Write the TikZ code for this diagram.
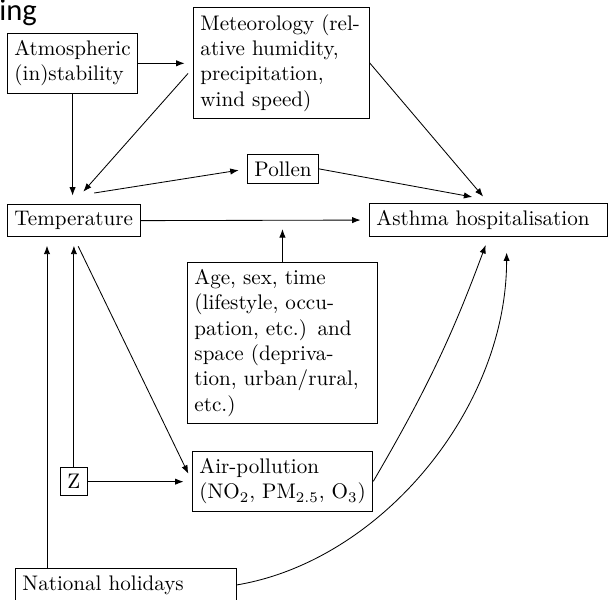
\documentclass[tikz,border=0pt]{standalone}
\usepackage{fontspec}
\newfontfamily\headfont{Carlito}
\usetikzlibrary{arrows.meta,calc}
\begin{document}
\begin{tikzpicture}[x=0.4739pt,y=-0.4739pt,
  box/.style={draw, inner sep=3.33pt, align=left},
  arr/.style={-{Latex[length=4pt,width=3pt]}, shorten >=4pt}]
\useasboundingbox (0,0) rectangle (609,599);
% heading fragment
\node[font=\headfont\fontsize{14.5}{16}\selectfont, anchor=base west, inner sep=0] (hd) at (-1,20) {ing};
% nodes
\node[box, anchor=north west] (atm) at (7,33) {Atmospheric\\(in)stability};
\node[box, anchor=north west, text width=76.7pt] (met) at (193,7) {Meteorology (rel-\\ative humidity,\\precipitation,\\wind speed)};
\node[box, anchor=north west] (pol) at (247,154) {Pollen};
\node[box, anchor=north west] (tmp) at (7,204) {Temperature};
\node[box, anchor=north west, text width=106.3pt] (ast) at (369,203) {Asthma hospitalisation};
\node[box, anchor=north west, text width=83.4pt] (age) at (187,262) {Age, sex, time\\(lifestyle, occu-\\pation, etc.) and\\space (depriva-\\tion, urban/rural,\\etc.)};
\node[box, anchor=north west] (air) at (192,451) {Air-pollution\\(NO$_2$, PM$_{2.5}$, O$_3$)};
\node[box, anchor=north west] (z) at (60,467) {Z};
\node[box, anchor=north west, text width=98pt] (hol) at (15,568) {National holidays};
% connectors
\draw[arr] (atm.east) -- (atm.east -| met.west);
\draw[arr] (atm.south) -- (atm.south |- tmp.north);
\draw[arr] ($(met.west)+(-5,10.5)$) -- ($(tmp.north)+(4,-6)$);
\draw[arr] ($(tmp.north)+(20.5,-11)$) -- (pol.west);
\draw[arr] (met.east) -- (ast.north);
\draw[arr] (pol.east) -- ($(ast.north)+(-8,-4.5)$);
\draw[arr] (tmp.east) -- (ast.west);
\coordinate (agetip) at (age.north |- tmp.east);
\draw[arr] (age.north) -- (agetip);
\draw[arr] (air.east) to[bend right=5] (ast.south);
\draw[arr] (hol.east) .. controls +(144,-24) and +(0,165) .. ($(ast.south)+(18,7)$);
\coordinate (h1) at ($(hol.north west)+(32,0)$);
\draw[arr] (h1) -- (h1 |- tmp.south);
\draw[arr] (z.north) -- (z.north |- tmp.south);
\draw[arr] (z.east) -- (z.east -| air.west);
\draw[arr] ($(tmp.south)+(4.5,9)$) -- (air.west);
\end{tikzpicture}
\end{document}
